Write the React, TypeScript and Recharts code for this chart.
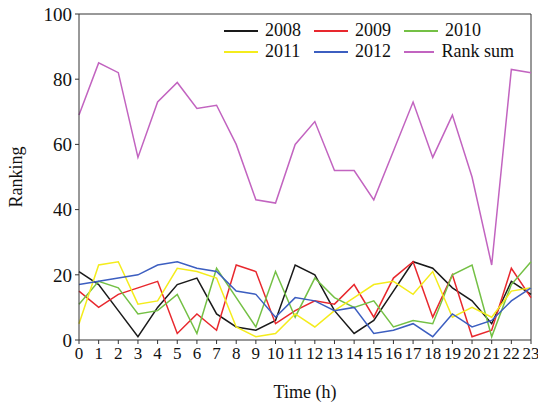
import { LineChart, Line, XAxis, YAxis, ReferenceLine } from 'recharts';

const hours = [0, 1, 2, 3, 4, 5, 6, 7, 8, 9, 10, 11, 12, 13, 14, 15, 16, 17, 18, 19, 20, 21, 22, 23];
const rank2008 = [21, 17, 9, 1, 10, 17, 19, 8, 4, 3, 6, 23, 20, 9, 2, 6, 15, 24, 22, 16, 12, 5, 18, 14];
const rank2009 = [15, 10, 14, 16, 18, 2, 8, 3, 23, 21, 5, 9, 12, 11, 17, 7, 19, 24, 7, 20, 1, 3, 22, 13];
const rank2010 = [11, 18, 16, 8, 9, 14, 2, 22, 13, 4, 21, 7, 19, 13, 10, 12, 4, 6, 5, 20, 23, 1, 17, 24];
const rank2011 = [5, 23, 24, 11, 12, 22, 21, 19, 4, 1, 2, 8, 4, 9, 13, 17, 18, 14, 21, 7, 10, 7, 15, 16];
const rank2012 = [17, 18, 19, 20, 23, 24, 22, 21, 15, 14, 7, 13, 12, 9, 10, 2, 3, 5, 1, 8, 4, 6, 12, 16];
const rankSum = [69, 85, 82, 56, 73, 79, 71, 72, 60, 43, 42, 60, 67, 52, 52, 43, 58, 73, 56, 69, 50, 23, 83, 82];
const yTicks = [0, 20, 40, 60, 80, 100];

const series = [
  { key: 'y2008', name: '2008', color: '#1a1a1a', values: rank2008 },
  { key: 'y2009', name: '2009', color: '#e8282e', values: rank2009 },
  { key: 'y2010', name: '2010', color: '#74c045', values: rank2010 },
  { key: 'y2011', name: '2011', color: '#f4ec1c', values: rank2011 },
  { key: 'y2012', name: '2012', color: '#3c5ec0', values: rank2012 },
  { key: 'sum', name: 'Rank sum', color: '#c264c0', values: rankSum },
];

const data = hours.map((h, i) => {
  const row: any = { hour: h };
  series.forEach((s) => {
    row[s.key] = s.values[i];
  });
  return row;
});

const font = '"Liberation Serif", "DejaVu Serif", serif';

// legend sits inside the plot, top right, 3 columns x 2 rows
const LegendBox = () => (
  <div
    style={{
      position: 'absolute',
      left: 224,
      top: 20,
      display: 'grid',
      gridTemplateColumns: '90px 90px 110px',
      fontFamily: font,
      fontSize: 18,
      color: '#111',
      lineHeight: '21px',
      whiteSpace: 'nowrap',
    }}
  >
    {series.map((s) => (
      <div key={s.key} style={{ display: 'flex', alignItems: 'center' }}>
        <span
          style={{
            display: 'inline-block',
            width: 34,
            height: 2,
            background: s.color,
            marginRight: 7,
          }}
        />
        <span>{s.name}</span>
      </div>
    ))}
  </div>
);

export default function App() {
  return (
    <div style={{ position: 'absolute', left: 0, top: 0, width: 538, height: 404, background: '#fff' }}>
      <LineChart
        width={538}
        height={404}
        data={data}
        margin={{ top: 14, right: 7, bottom: 0, left: 0 }}
      >
        <XAxis
          dataKey='hour'
          type='number'
          domain={[0, 23]}
          ticks={hours}
          interval={0}
          height={64}
          tickSize={4}
          tickMargin={3}
          stroke='#333'
          tick={{ fill: '#111', fontFamily: font, fontSize: 17 }}
          label={{
            value: 'Time (h)',
            position: 'insideBottom',
            offset: 6,
            fill: '#111',
            fontFamily: font,
            fontSize: 18,
          }}
        />
        <YAxis
          type='number'
          domain={[0, 100]}
          ticks={yTicks}
          width={79}
          tickSize={4}
          tickMargin={3}
          stroke='#333'
          tick={{ fill: '#111', fontFamily: font, fontSize: 19 }}
          label={{
            value: 'Ranking',
            angle: -90,
            position: 'insideLeft',
            offset: 16,
            fill: '#111',
            fontFamily: font,
            fontSize: 18,
            style: { textAnchor: 'middle' },
          }}
        />
        <ReferenceLine y={100} stroke='#333' />
        <ReferenceLine x={23} stroke='#333' />
        {series.map((s) => (
          <Line
            key={s.key}
            dataKey={s.key}
            name={s.name}
            stroke={s.color}
            strokeWidth={1.5}
            dot={false}
            isAnimationActive={false}
          />
        ))}
      </LineChart>
      <LegendBox />
    </div>
  );
}
